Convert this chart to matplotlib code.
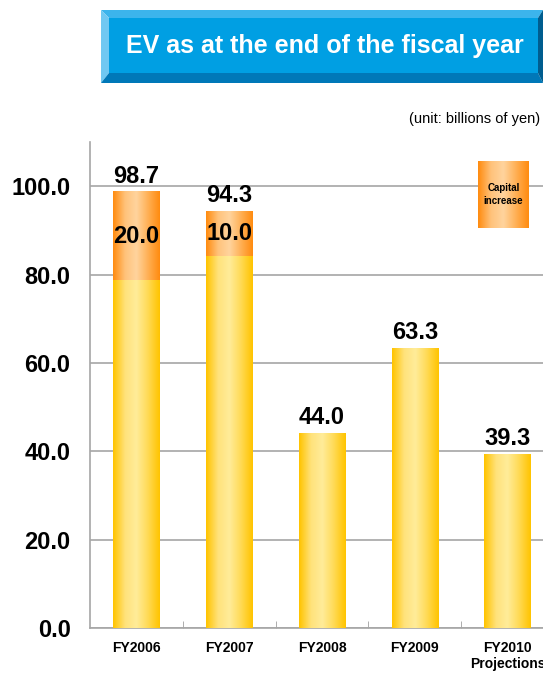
import matplotlib
matplotlib.use("Agg")
import matplotlib.pyplot as plt
import numpy as np
from matplotlib.colors import LinearSegmentedColormap
from matplotlib.patches import Polygon

plt.rcParams['font.family'] = ['Liberation Sans', 'DejaVu Sans']

# data (billions of yen)
years = ["FY2006", "FY2007", "FY2008", "FY2009", "FY2010\nProjections"]
ev_total = [98.7, 94.3, 44.0, 63.3, 39.3]
capital_increase = [20.0, 10.0, 0.0, 0.0, 0.0]
base = [t - c for t, c in zip(ev_total, capital_increase)]

W, H = 543, 673
fig = plt.figure(figsize=(W / 100, H / 100), dpi=100)


def px(x, y):
    return (x / W, 1 - y / H)


gold = LinearSegmentedColormap.from_list("gold", ["#FFC400", "#FFE27A", "#FFEC9A", "#FFDA55", "#FFC400"])
orange = LinearSegmentedColormap.from_list("orange", ["#FF8C10", "#FFC27A", "#FFD49E", "#FFB055", "#FF8C10"])
grad = np.linspace(0, 1, 64).reshape(1, -1)


def fill_gradient(ax, patch, cmap):
    x0, y0 = patch.get_x(), patch.get_y()
    w, h = patch.get_width(), patch.get_height()
    if h <= 0:
        return
    ax.imshow(grad, cmap=cmap, aspect="auto", extent=(x0, x0 + w, y0, y0 + h),
              origin="lower", zorder=3, interpolation="bicubic")


# axes (right edge runs past the picture, as in the source slide)
ax = fig.add_axes([90 / W, 1 - 628 / H, (554 - 90) / W, (628 - 142) / H])
x = np.arange(len(years))
bars_base = ax.bar(x, base, width=0.5, color="none", zorder=3)
bars_cap = ax.bar(x, capital_increase, width=0.5, bottom=base, color="none", zorder=3)
for p in bars_base:
    fill_gradient(ax, p, gold)
for p in bars_cap:
    fill_gradient(ax, p, orange)

ax.set_xlim(-0.5, len(years) - 0.5)
ax.set_ylim(0, 110)
ax.set_yticks(np.arange(0, 101, 20))
ax.set_yticklabels([f"{v:.1f}" for v in np.arange(0, 101, 20)], fontsize=17, fontweight="bold")
ax.set_xticks(x)
ax.set_xticklabels(years, fontsize=10, fontweight="bold", linespacing=1.25)
ax.set_xticks(np.arange(0.5, len(years) - 1, 1), minor=True)
ax.tick_params(axis="x", which="major", length=0, pad=9)
ax.tick_params(axis="x", which="minor", direction="in", length=5, color="#A0A0A0")
ax.tick_params(axis="y", length=0, pad=14)
ax.yaxis.grid(True, color="#A6A6A6", linewidth=1.2, zorder=0)
ax.set_axisbelow(True)
for s in ["top", "right"]:
    ax.spines[s].set_visible(False)
for s in ["left", "bottom"]:
    ax.spines[s].set_color("#A6A6A6")
    ax.spines[s].set_linewidth(1.2)

# value labels
for i, (t, c) in enumerate(zip(ev_total, capital_increase)):
    ax.annotate(f"{t:.1f}", (x[i], t), xytext=(0, 3), textcoords="offset points",
                ha="center", va="bottom", fontsize=17, fontweight="bold", zorder=5)
    if c > 0:
        ax.text(x[i], base[i] + c / 2, f"{c:.1f}", ha="center", va="center",
                fontsize=17, fontweight="bold", zorder=5)

# legend swatch
lx0, lx1 = (479 - 90) / 93 - 0.5, (530 - 90) / 93 - 0.5
ly0, ly1 = (628 - 228) / 4.42, (628 - 161) / 4.42
ax.imshow(grad, cmap=orange, aspect="auto", extent=(lx0, lx1, ly0, ly1),
          origin="lower", zorder=4, interpolation="bicubic")
ax.text((lx0 + lx1) / 2, (ly0 + ly1) / 2, "Capital\nincrease", ha="center", va="center",
        fontsize=7, fontweight="bold", linespacing=1.4, zorder=5)
ax.set_xlim(-0.5, len(years) - 0.5)
ax.set_ylim(0, 110)

# title box with bevel
bx0, bx1, by0, by1, bv = 101, 543, 10, 83, 8
face = [(bx0 + bv, by0 + bv), (bx1 - 5, by0 + bv), (bx1 - 5, by1 - 10), (bx0 + bv, by1 - 10)]
top = [(bx0, by0), (bx1, by0), (bx1 - 5, by0 + bv), (bx0 + bv, by0 + bv)]
left = [(bx0, by0), (bx0 + bv, by0 + bv), (bx0 + bv, by1 - 10), (bx0, by1)]
bottom = [(bx0, by1), (bx0 + bv, by1 - 10), (bx1 - 5, by1 - 10), (bx1, by1)]
right = [(bx1, by0), (bx1, by1), (bx1 - 5, by1 - 10), (bx1 - 5, by0 + bv)]
for pts, col in [(face, "#009FE3"), (top, "#3CB4EC"), (left, "#70C8F2"),
                 (bottom, "#0078B8"), (right, "#005D8F")]:
    fig.patches.append(Polygon([px(a, b) for a, b in pts], closed=True, facecolor=col,
                               edgecolor="none", transform=fig.transFigure))
fig.text(*px(325, 46), "EV as at the end of the fiscal year", color="white",
         fontsize=18, fontweight="bold", ha="center", va="center")

fig.text(*px(540, 119), "(unit: billions of yen)", fontsize=10.5, ha="right", va="center")

fig.savefig("out.png", dpi=100)
